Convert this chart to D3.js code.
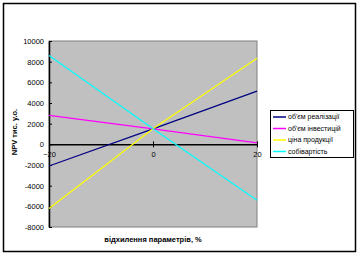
<!DOCTYPE html>
<html>
<head>
<meta charset="utf-8">
<script src="https://cdn.jsdelivr.net/npm/d3@7"></script>
<style>
  body { margin: 0; background: #fff; }
  svg { display: block; font-family: "Liberation Sans", Arial, sans-serif; }
</style>
</head>
<body>
<div id="chart"></div>
<script>
// відхилення параметрів, %
const deviation = [-20, 0, 20]

// NPV, тис. у.о.
const volumeSales = [-2100, 1500, 5150]
const volumeInvest = [2800, 1500, 150]
const priceProduct = [-6200, 1500, 8330]
const costPrice = [8600, 1500, -5420]

const seriesNames = ["об'єм реалізації", "об'єм інвестицій", "ціна продукції", "собівартість"]
const seriesColors = ["#000080", "#ff00ff", "#ffff00", "#00ffff"]

const yTicks = [-8000, -6000, -4000, -2000, 0, 2000, 4000, 6000, 8000, 10000]
const xTicks = [-20, 0, 20]

const width = 358, height = 255
const plot = {left: 49, top: 41, right: 257, bottom: 227}

const svg = d3.select("#chart")
  .append("svg")
    .attr("width", width)
    .attr("height", height)

// рамка
svg.append("rect")
  .attr("x", 3.5).attr("y", 3.5)
  .attr("width", 352).attr("height", 248)
  .attr("fill", "#fff")
  .attr("stroke", "#000")
  .attr("stroke-width", 1.5)

const x = d3.scaleLinear().domain([-20, 20]).range([plot.left, plot.right])
const y = d3.scaleLinear().domain([-8000, 10000]).range([plot.bottom, plot.top])

// plot area
svg.append("rect")
  .attr("x", plot.left).attr("y", plot.top)
  .attr("width", plot.right - plot.left)
  .attr("height", plot.bottom - plot.top)
  .attr("fill", "#c0c0c0")
  .attr("stroke", "#808080")
  .attr("stroke-width", 1)

// Y axis
const yAxis = svg.append("g")
  .attr("transform", `translate(${plot.left},0)`)
  .call(d3.axisLeft(y).tickValues(yTicks).tickSizeInner(-3).tickSizeOuter(0).tickPadding(5)
    .tickFormat(d => d))
yAxis.select(".domain").attr("stroke", "#000").attr("stroke-width", 1.5)
yAxis.selectAll(".tick line").attr("stroke", "#000")
yAxis.selectAll("text").attr("font-size", 7.5).attr("fill", "#000")

// X axis at y = 0
const xAxis = svg.append("g")
  .attr("transform", `translate(0,${y(0)})`)
  .call(d3.axisBottom(x).tickValues(xTicks).tickSizeInner(3).tickSizeOuter(0).tickPadding(4))
xAxis.select(".domain").attr("stroke", "#000").attr("stroke-width", 1.5)
xAxis.selectAll(".tick line").attr("stroke", "#000").attr("y1", -3)
xAxis.selectAll("text").attr("font-size", 7.5).attr("fill", "#000")

// лінії
const allSeries = [volumeSales, volumeInvest, priceProduct, costPrice]
const line = d3.line()
  .x((d, i) => x(deviation[i]))
  .y(d => y(d))

svg.append("g")
  .selectAll("path")
  .data(allSeries)
  .join("path")
    .attr("d", d => line(d))
    .attr("fill", "none")
    .attr("stroke", (d, i) => seriesColors[i])
    .attr("stroke-width", 1.2)

// axis titles
svg.append("text")
  .attr("x", 153).attr("y", 242)
  .attr("text-anchor", "middle")
  .attr("font-size", 7.5).attr("font-weight", "bold")
  .text("відхилення параметрів, %")

svg.append("text")
  .attr("transform", "translate(17,132) rotate(-90)")
  .attr("text-anchor", "middle")
  .attr("font-size", 7.5).attr("font-weight", "bold")
  .text("NPV тис. у.о.")

// legend
const legend = svg.append("g").attr("transform", "translate(270,110)")
legend.append("rect")
  .attr("x", 0.5).attr("y", 0.5)
  .attr("width", 83).attr("height", 47)
  .attr("fill", "#fff").attr("stroke", "#000").attr("stroke-width", 1)

const items = legend.selectAll("g.item")
  .data(seriesNames)
  .join("g")
    .attr("class", "item")
    .attr("transform", (d, i) => `translate(0,${7 + i * 11.5})`)
items.append("line")
  .attr("x1", 3).attr("x2", 16)
  .attr("stroke", (d, i) => seriesColors[i])
  .attr("stroke-width", 1.5)
items.append("text")
  .attr("x", 18).attr("dy", "0.35em")
  .attr("font-size", 7)
  .text(d => d)
</script>
</body>
</html>
